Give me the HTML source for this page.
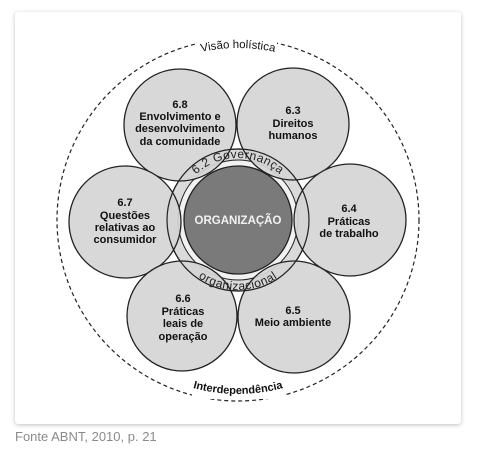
<!DOCTYPE html>
<html><head><meta charset="utf-8"><style>
body{margin:0;background:#fff;width:482px;height:449px;overflow:hidden;font-family:"Liberation Sans",sans-serif}
.card{position:absolute;left:15px;top:12px;width:446px;height:412px;background:#fff;border-radius:3px;box-shadow:0 1px 4px rgba(0,0,0,.25)}
.cap{position:absolute;left:15px;top:429px;font-size:13px;color:#8a8a8a}
svg{position:absolute;left:0;top:0}
</style></head><body>
<div class="card"></div>
<svg width="482" height="449" font-family="Liberation Sans, sans-serif">
<defs>
<path id="top" d="M176,220 A62,62 0 0 1 300,220"/>
<path id="bot" d="M168,220 A70,70 0 0 0 308,220"/>
<path id="otop" d="M66,220 A172,172 0 0 1 410,220"/>
<path id="obot" d="M64,220 A174,174 0 0 0 412,220"/>
</defs>
<circle cx="238" cy="220" r="181" fill="none" stroke="#222" stroke-width="1.2" stroke-dasharray="4,3"/>
<rect x="197" y="38" width="80" height="14" fill="#fff"/>
<rect x="192" y="383" width="94" height="16" fill="#fff"/>
<text font-size="11.5" fill="#111" text-anchor="middle"><textPath href="#otop" startOffset="50%">Visão holística</textPath></text>
<text font-size="11" font-weight="bold" fill="#111" text-anchor="middle"><textPath href="#obot" startOffset="50%">Interdependência</textPath></text>
<circle cx="238" cy="220" r="71" fill="#dadada" stroke="#222" stroke-width="1.2"/>
<circle cx="238" cy="220" r="60" fill="#f1f1f1" stroke="#222" stroke-width="1"/>
<g fill="#d5d5d5" fill-opacity="0.92" stroke="#222" stroke-width="1.3">
<circle cx="180" cy="125" r="56"/>
<circle cx="293" cy="124" r="56"/>
<circle cx="125" cy="222" r="56"/>
<circle cx="350" cy="220" r="56"/>
<circle cx="182" cy="316" r="55"/>
<circle cx="294" cy="317" r="56"/>
</g>
<circle cx="238" cy="220" r="71" fill="none" stroke="#222" stroke-width="1.2"/>
<circle cx="238" cy="220" r="54" fill="#7a7a7a" stroke="#222" stroke-width="1.3"/>
<text font-size="12" fill="#222" text-anchor="middle" letter-spacing="0.5"><textPath href="#top" startOffset="50%">6.2 Governança</textPath></text>
<text font-size="12" fill="#222" text-anchor="middle" letter-spacing="0.5"><textPath href="#bot" startOffset="50%">organizacional</textPath></text>
<text x="238" y="224" font-size="11.5" font-weight="bold" fill="#f2f2f2" text-anchor="middle">ORGANIZAÇÃO</text>
<g font-size="11" font-weight="bold" fill="#111" text-anchor="middle">
<text x="180" y="108">6.8</text><text x="180" y="120">Envolvimento e</text><text x="180" y="132">desenvolvimento</text><text x="180" y="145">da comunidade</text>
<text x="293" y="114">6.3</text><text x="293" y="127">Direitos</text><text x="293" y="139">humanos</text>
<text x="125" y="206">6.7</text><text x="125" y="219">Questões</text><text x="125" y="231">relativas ao</text><text x="125" y="243">consumidor</text>
<text x="349" y="212">6.4</text><text x="349" y="225">Práticas</text><text x="349" y="237">de trabalho</text>
<text x="183" y="302">6.6</text><text x="183" y="315">Práticas</text><text x="183" y="327">leais de</text><text x="183" y="340">operação</text>
<text x="293" y="314">6.5</text><text x="293" y="326">Meio ambiente</text>
</g>
</svg>
<div class="cap">Fonte ABNT, 2010, p. 21</div>
</body></html>
